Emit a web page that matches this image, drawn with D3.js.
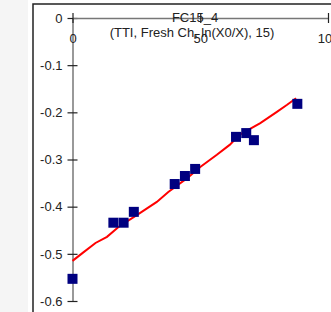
<!DOCTYPE html>
<html>
<head>
<meta charset="utf-8">
<style>
body { margin: 0; background: #fff; }
svg { display: block; font-family: "Liberation Sans", Arial, sans-serif; }
</style>
</head>
<body>
<svg id="chart" width="331" height="312"></svg>
<script src="https://cdn.jsdelivr.net/npm/d3@7"></script>
<script>
// observed points
var obsX = [0, 16, 20, 24, 40, 44, 48, 64, 68, 71, 88];
var obsY = [-0.553, -0.434, -0.434, -0.411, -0.352, -0.335, -0.320, -0.252, -0.244, -0.259, -0.182];

// fitted curve
var fitX = [0, 4, 9, 13.5, 18, 26.5, 33, 37.5, 45, 50, 56.5, 61.5, 65.5, 73.5, 80, 84, 87.5];
var fitY = [-0.515, -0.498, -0.477, -0.464, -0.443, -0.413, -0.390, -0.369, -0.339, -0.316, -0.290, -0.269, -0.247, -0.223, -0.199, -0.184, -0.170];

var xTicks = [0, 50, 100];
var yTicks = [0, -0.1, -0.2, -0.3, -0.4, -0.5, -0.6];

var title = "FC15_4";
var subtitle = "(TTI, Fresh Ch, ln(X0/X), 15)";

var svg = d3.select("#chart");

// light side strip + framed panel
svg.append("rect").attr("x", 0).attr("y", 0).attr("width", 28).attr("height", 312).attr("fill", "#f5f5f5");
svg.append("rect").attr("x", 33).attr("y", 4).attr("width", 310).attr("height", 320)
  .attr("fill", "#fff").attr("stroke", "#222").attr("stroke-width", 1.5);

var x = d3.scaleLinear().domain([0, 100]).range([72.5, 328]);
var y = d3.scaleLinear().domain([-0.6, 0]).range([301, 18]);

// y axis
var yAxis = svg.append("g").attr("transform", "translate(" + x(0) + ",0)")
  .call(d3.axisLeft(y).tickValues(yTicks).tickSize(0).tickFormat(function(d){ return d === 0 ? "0" : d.toFixed(1); }));
yAxis.select(".domain").attr("stroke", "#777").attr("stroke-width", 1.5);
yAxis.selectAll(".tick text").attr("x", -10).attr("font-size", 13).attr("fill", "#222").attr("font-family", null);
yAxis.selectAll(".tick").append("line").attr("x1", -5).attr("x2", 5).attr("stroke", "#222").attr("stroke-width", 1.2);

// x axis on y = 0
var xAxis = svg.append("g").attr("transform", "translate(0," + y(0) + ")")
  .call(d3.axisBottom(x).tickValues(xTicks).tickSize(0));
xAxis.select(".domain").attr("stroke", "#777").attr("stroke-width", 1.5);
xAxis.selectAll(".tick text").attr("y", 16).attr("font-size", 13).attr("fill", "#222").attr("font-family", null);
xAxis.selectAll(".tick").append("line").attr("y1", -5).attr("y2", 5).attr("stroke", "#222").attr("stroke-width", 1.2);

// titles
svg.append("text").attr("x", 195).attr("y", 22).attr("text-anchor", "middle")
  .attr("font-size", 13).attr("fill", "#222").text(title);
svg.append("text").attr("x", 192).attr("y", 37).attr("text-anchor", "middle")
  .attr("font-size", 13).attr("fill", "#222").text(subtitle);

// fitted line
var fit = fitX.map(function(d, i){ return [d, fitY[i]]; });
svg.append("path").datum(fit)
  .attr("fill", "none").attr("stroke", "#f00").attr("stroke-width", 2)
  .attr("d", d3.line().x(function(d){ return x(d[0]); }).y(function(d){ return y(d[1]); }));

// observed squares
var s = 10;
svg.selectAll(".pt").data(obsX).enter().append("rect")
  .attr("class", "pt")
  .attr("x", function(d){ return x(d) - s / 2; })
  .attr("y", function(d, i){ return y(obsY[i]) - s / 2; })
  .attr("width", s).attr("height", s)
  .attr("fill", "#000080");
</script>
</body>
</html>
